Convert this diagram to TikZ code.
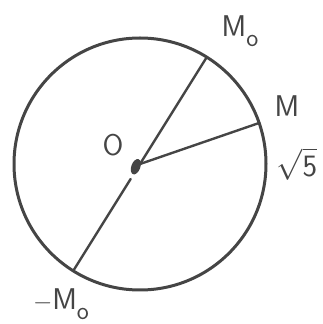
\documentclass[tikz,border=0pt]{standalone}
\usepackage{amsmath,amssymb}
\usepackage{tikz}
\usetikzlibrary{calc}
\definecolor{pencil}{HTML}{454545}
\newcommand{\sub}[1]{\raisebox{-0.35em}{\scalebox{0.85}{#1}}}

\begin{document}
\begin{tikzpicture}[x=1pt, y=1pt, line cap=round,
  rim/.style={draw=pencil, line width=3pt},
  spoke/.style={draw=pencil, line width=2.4pt},
  lbl/.style={text=pencil, font=\fontsize{30}{32}\selectfont\sffamily, inner sep=0pt}]
\useasboundingbox (0,0) rectangle (323,324);
\coordinate (O) at (140,160);
\draw[rim] (O) circle (126);
\coordinate (M0) at ($(O)+(58:126)$);
\coordinate (M) at ($(O)+(19:126)$);
\coordinate (mM0) at ($(O)+(238:126)$);
\draw[spoke] (O) -- (M0);
\draw[spoke] (O) -- (M);
\draw[spoke] ($(O)!0.14!(mM0)$) -- (mM0);
\fill[pencil, rotate around={-20:(O)}] ($(O)+(-3,-4)$) ellipse (4.5 and 8);
\node[lbl] (lo) at (113,179) {O};
\node[lbl] (lm0) at (240,293) {M\sub{o}};
\node[lbl] (lm) at (287,218) {M};
\node[lbl] (ls) at (297,160) {\scalebox{1.25}{$\sqrt{\mathsf{5}}$}};
\node[lbl] (lmm0) at (61,20) {$-$M\sub{o}};
\end{tikzpicture}
\end{document}
